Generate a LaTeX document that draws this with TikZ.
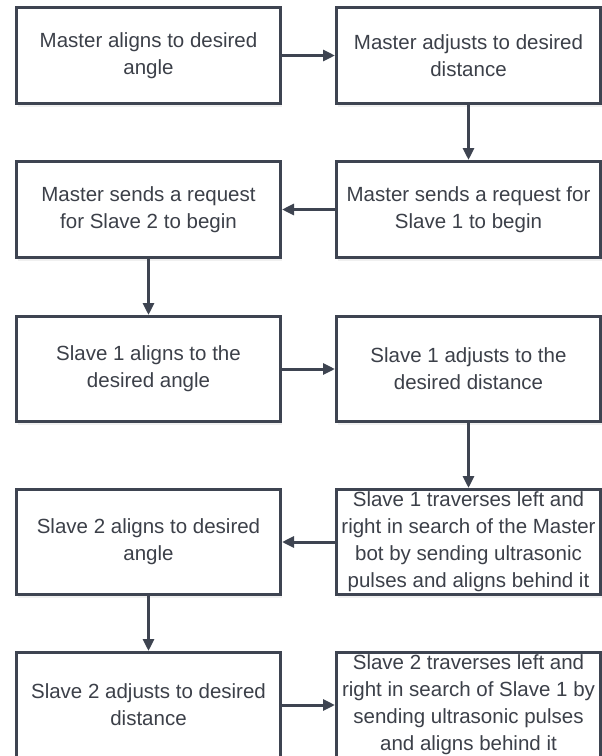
\documentclass[tikz,border=0pt]{standalone}
\usepackage{fontspec}
\setmainfont{Liberation Sans}
\usetikzlibrary{arrows.meta,shadows}

\definecolor{edgegray}{HTML}{3E4451}
\definecolor{textgray}{HTML}{3C4049}

\tikzset{
  stepbox/.style={draw=edgegray, line width=3pt, fill=white, text=textgray,
    minimum width=264pt, inner sep=0pt, align=center,
    font=\fontsize{20.5}{27}\selectfont,
    drop shadow={shadow xshift=1pt, shadow yshift=-3pt, opacity=.12}},
  short/.style={stepbox, minimum height=96pt},
  tall/.style={stepbox, minimum height=105pt},
  flow/.style={draw=edgegray, line width=3pt,
    -{Triangle[length=12pt,width=11pt]}}
}

\begin{document}
\begin{tikzpicture}[x=1pt,y=-1pt]
  \useasboundingbox (0,0) rectangle (602,756);

  % Master
  \node[short] (malign)  at (148.5,55.5)  {Master aligns to desired\\angle};
  \node[short] (madjust) at (468.5,55.5)  {Master adjusts to desired\\distance};
  \node[short] (mreqone) at (468.5,209.5) {Master sends a request for\\Slave 1 to begin};
  \node[short] (mreqtwo) at (148.5,209.5) {Master sends a request\\for Slave 2 to begin};
  % Slave 1
  \node[tall] (saalign)  at (148.5,369) {Slave 1 aligns to the\\desired angle};
  \node[tall] (saadjust) at (468.5,369) {Slave 1 adjusts to the\\desired distance};
  \node[tall] (sasearch) at (468.5,542) {Slave 1 traverses left and\\right in search of the Master\\bot by sending ultrasonic\\pulses and aligns behind it};
  % Slave 2
  \node[tall] (sbalign)  at (148.5,542) {Slave 2 aligns to desired\\angle};
  \node[tall] (sbadjust) at (148.5,705) {Slave 2 adjusts to desired\\distance};
  \node[tall] (sbsearch) at (468.5,705) {Slave 2 traverses left and\\right in search of Slave 1 by\\sending ultrasonic pulses\\and aligns behind it};

  \draw[flow] (malign) -- (madjust);
  \draw[flow] (madjust) -- (mreqone);
  \draw[flow] (mreqone) -- (mreqtwo);
  \draw[flow] (mreqtwo) -- (saalign);
  \draw[flow] (saalign) -- (saadjust);
  \draw[flow] (saadjust) -- (sasearch);
  \draw[flow] (sasearch) -- (sbalign);
  \draw[flow] (sbalign) -- (sbadjust);
  \draw[flow] (sbadjust) -- (sbsearch);
\end{tikzpicture}
\end{document}
